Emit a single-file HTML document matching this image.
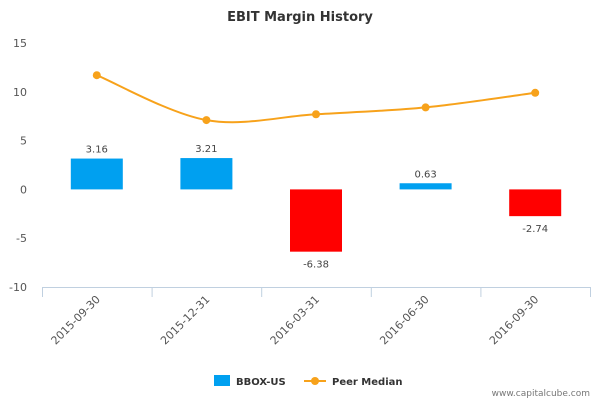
<!DOCTYPE html>
<html><head><meta charset="utf-8"><style>
body{margin:0;background:#fff;font-family:"DejaVu Sans","Liberation Sans",sans-serif}
</style></head><body>
<svg width="600" height="400" xmlns="http://www.w3.org/2000/svg">
<text x="300" y="21" text-anchor="middle" font-size="13" font-weight="bold" fill="#333">EBIT Margin History</text>
<g id="yaxis"></g>
<g id="xaxis"></g>
<g id="bars"></g>
<g id="line"></g>
<g>
<rect x="214" y="375" width="16" height="11" fill="#00a0f0"/>
<text x="236" y="385" font-size="10" font-weight="bold" fill="#333">BBOX-US</text>
<line x1="304" y1="381" x2="326" y2="381" stroke="#f7a21b" stroke-width="2"/>
<circle cx="315" cy="381" r="4" fill="#f7a21b"/>
<text x="332" y="385" font-size="10" font-weight="bold" fill="#333">Peer Median</text>
</g>
<text x="590" y="396" text-anchor="end" font-size="9" fill="#777">www.capitalcube.com</text>
</svg>
<script>
const categories=["2015-09-30","2015-12-31","2016-03-31","2016-06-30","2016-09-30"];
const companyValues=[3.16,3.21,-6.38,0.63,-2.74];
const peerValues=[11.7,7.1,7.7,8.4,9.9];
const yTicks=[15,10,5,0,-5,-10];
const NS="http://www.w3.org/2000/svg";
const plotL=42,plotR=590,yMin=-10,yMax=15,plotTop=43,plotBot=287;
const bw=(plotR-plotL)/categories.length;
const yS=v=>plotBot-(v-yMin)/(yMax-yMin)*(plotBot-plotTop);
const xc=i=>plotL+bw*(i+0.5);
function mk(t,a,p){const e=document.createElementNS(NS,t);for(const k in a)e.setAttribute(k,a[k]);p.appendChild(e);return e;}
const ya=document.getElementById('yaxis'),xa=document.getElementById('xaxis'),bg=document.getElementById('bars'),lg=document.getElementById('line');
yTicks.forEach(v=>{const t=mk('text',{x:27,y:yS(v)+4,'text-anchor':'end','font-size':11,fill:'#555'},ya);t.textContent=v;

});
mk('line',{x1:plotL,y1:plotBot+0.5,x2:plotR,y2:plotBot+0.5,stroke:'#c0d0e0'},xa);
for(let i=0;i<=categories.length;i++){mk('line',{x1:plotL+bw*i+0.5,y1:plotBot,x2:plotL+bw*i+0.5,y2:plotBot+10,stroke:'#c0d0e0'},xa);}
categories.forEach((c,i)=>{const t=mk('text',{x:xc(i)+4,y:plotBot+13,'text-anchor':'end','font-size':11,fill:'#555',transform:`rotate(-45 ${xc(i)+4} ${plotBot+13})`},xa);t.textContent=c;

});
companyValues.forEach((v,i)=>{const y0=yS(0),y1=yS(v);const r=mk('rect',{x:xc(i)-26,y:Math.min(y0,y1),width:52,height:Math.abs(y1-y0),fill:v>=0?'#00a0f0':'#ff0000'},bg);


const t=mk('text',{x:xc(i),y:v>=0?y1-6:y1+16,'text-anchor':'middle','font-size':10,fill:'#444'},bg);t.textContent=v.toFixed(2);

});
const pts=peerValues.map((v,i)=>[xc(i),yS(v)]);
let d=`M${pts[0][0]},${pts[0][1]}`;
for(let i=0;i<pts.length-1;i++){const p0=pts[i-1]||pts[i],p1=pts[i],p2=pts[i+1],p3=pts[i+2]||p2;
const c1=[p1[0]+(p2[0]-p0[0])/6,p1[1]+(p2[1]-p0[1])/6],c2=[p2[0]-(p3[0]-p1[0])/6,p2[1]-(p3[1]-p1[1])/6];
d+=` C${c1[0]},${c1[1]} ${c2[0]},${c2[1]} ${p2[0]},${p2[1]}`;}
const path=mk('path',{d:d,fill:'none',stroke:'#f7a21b','stroke-width':2},lg);


pts.forEach((p,i)=>{const c=mk('circle',{cx:p[0],cy:p[1],r:4,fill:'#f7a21b'},lg);

});
</script>
</body></html>
